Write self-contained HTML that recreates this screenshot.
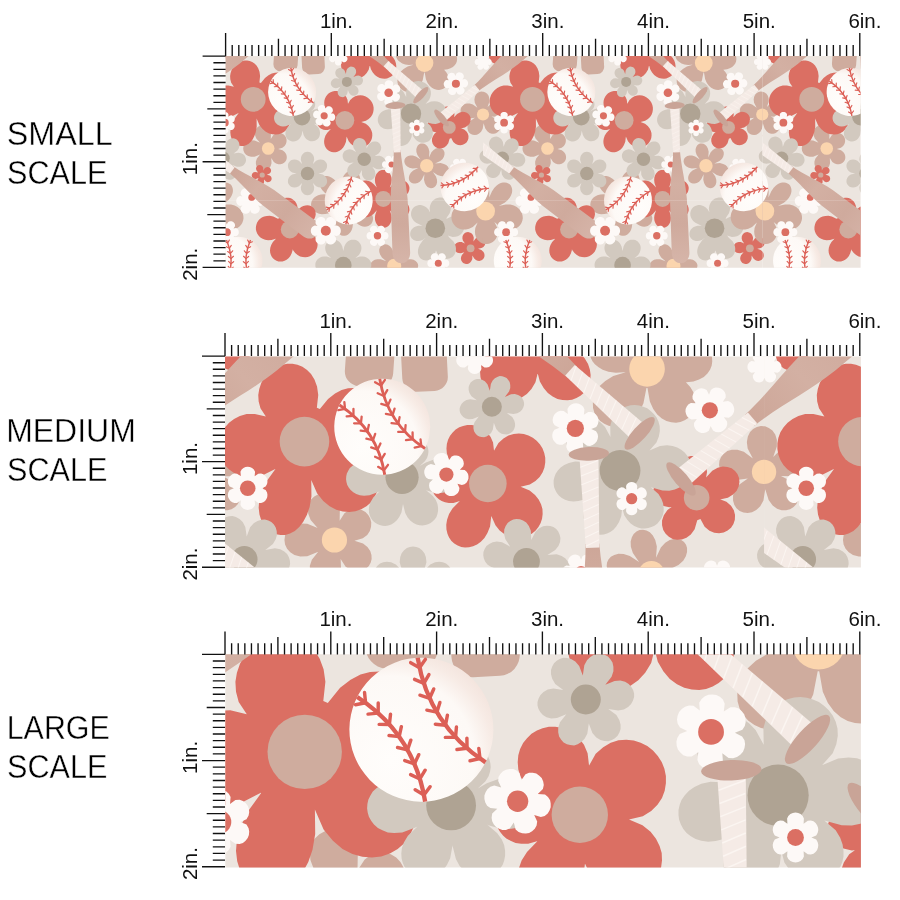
<!DOCTYPE html>
<html><head><meta charset="utf-8"><title>Fabric scale</title>
<style>
html,body{margin:0;padding:0;background:#fff;}
body{width:900px;height:900px;overflow:hidden;position:relative;font-family:"Liberation Sans",sans-serif;}
svg{position:absolute;left:0;top:0;will-change:transform;}
.rl{font-family:"Liberation Sans",sans-serif;font-size:20.5px;fill:#111;}
.lab{font-family:"Liberation Sans",sans-serif;font-size:33px;fill:#000;stroke:#fff;stroke-width:0.4px;}
</style></head><body>
<svg width="900" height="900" viewBox="0 0 900 900">
<defs>
<radialGradient id="ballg" cx="-14" cy="3" r="40" gradientUnits="userSpaceOnUse">
<stop offset="0" stop-color="#fffdfb"/><stop offset="0.7" stop-color="#fdf9f6"/><stop offset="0.86" stop-color="#f7ebe5"/><stop offset="1" stop-color="#f2e2db"/>
</radialGradient>
<linearGradient id="batg" x1="45" y1="0" x2="158" y2="0" gradientUnits="userSpaceOnUse">
<stop offset="0" stop-color="#cda698"/><stop offset="0.3" stop-color="#d3b0a3"/><stop offset="0.65" stop-color="#cfaa9d"/><stop offset="1" stop-color="#d6b5a9"/>
</linearGradient>
<g id="ball">
<circle r="24" fill="url(#ballg)"/>
<path d="M12,-20.78 Q2.88,0 12,20.78" fill="none" stroke="#dc5f56" stroke-width="1.45"/>
<path d="M10.73,-17.67 l3.16,-1.25 M10.73,-17.67 l-1.57,-3.01 M9.08,-12.47 l3.02,-1.56 M9.08,-12.47 l-1.86,-2.84 M8,-7.27 l2.84,-1.87 M8,-7.27 l-2.15,-2.63 M7.49,-2.08 l2.62,-2.16 M7.49,-2.08 l-2.42,-2.38 M7.54,3.12 l2.37,-2.44 M7.54,3.12 l-2.67,-2.1 M8.17,8.31 l2.1,-2.68 M8.17,8.31 l-2.88,-1.8 M9.37,13.51 l1.81,-2.88 M9.37,13.51 l-3.05,-1.49 M11.13,18.71 l1.51,-3.04 M11.13,18.71 l-3.19,-1.19" fill="none" stroke="#dc5f56" stroke-width="1.15" stroke-linecap="round"/>
<path d="M-12,-20.78 Q-2.88,0 -12,20.78" fill="none" stroke="#dc5f56" stroke-width="1.45"/>
<path d="M-10.73,-17.67 l1.57,-3.01 M-10.73,-17.67 l-3.16,-1.25 M-9.08,-12.47 l1.86,-2.84 M-9.08,-12.47 l-3.02,-1.56 M-8,-7.27 l2.15,-2.63 M-8,-7.27 l-2.84,-1.87 M-7.49,-2.08 l2.42,-2.38 M-7.49,-2.08 l-2.62,-2.16 M-7.54,3.12 l2.67,-2.1 M-7.54,3.12 l-2.37,-2.44 M-8.17,8.31 l2.88,-1.8 M-8.17,8.31 l-2.1,-2.68 M-9.37,13.51 l3.05,-1.49 M-9.37,13.51 l-1.81,-2.88 M-11.13,18.71 l3.19,-1.19 M-11.13,18.71 l-1.51,-3.04" fill="none" stroke="#dc5f56" stroke-width="1.15" stroke-linecap="round"/>
</g>
<g id="bat">
<path d="M45,-3.6 C62,-4.3 76,-8.2 94,-8.9 L147,-9.3 C161.5,-9.3 161.5,9.3 147,9.3 L94,8.9 C76,8.2 62,4.3 45,3.6 Z" fill="url(#batg)"/>
<path d="M2,-5 L47,-3.55 L47,3.55 L2,5 Z" fill="#f5ebe6"/>
<path d="M3.5,-4.7 l3,9.4 M7.9,-4.57 l3,9.14 M12.3,-4.44 l3,8.89 M16.7,-4.32 l3,8.64 M21.1,-4.19 l3,8.38 M25.5,-4.06 l3,8.13 M29.9,-3.94 l3,7.87 M34.3,-3.81 l3,7.62 M38.7,-3.68 l3,7.36 M43.1,-3.55 l3,7.11" stroke="#fbf5f1" stroke-width="0.5" fill="none"/>
<ellipse cx="0" cy="0" rx="3.4" ry="10.6" fill="#c9a497"/>
</g>
<clipPath id="tc"><rect x="203.73" y="-400" width="279.27" height="1200"/></clipPath>
<g id="tile" clip-path="url(#tc)"><rect x="202.73" y="-400" width="281.27" height="1200" fill="#ece5df"/>
<rect x="274.4" y="30" width="24.2" height="42" rx="7.5" fill="#cfac9e" transform="rotate(4 286 50)"/><rect x="301.2" y="30" width="22.8" height="44.3" rx="7" fill="#cfac9e" transform="rotate(-3 312 50)"/>
<g id="e1"><path d="M370.1,64.1 368.7,69.7 366.7,73 364.4,75.5 361.8,77.3 359.1,78.4 356.4,79 353.7,79 351.1,78.4 348.6,77.5 346.4,76.1 344.5,74.3 343,72.1 341.8,69.7 341.2,67.1 341,64.3 341.5,61.4 342.6,58.5 344.4,55.6 347.2,52.9 352.3,50.2 386,51.9 390.8,54.9 393.3,57.7 395,60.5 395.9,63.3 396.3,66 396.1,68.5 395.5,70.9 394.4,73 393,74.9 391.2,76.4 389.2,77.6 387,78.4 384.7,78.7 382.2,78.6 379.7,78 377.3,76.8 374.9,75.1 372.8,72.6 370.9,69.3 369.5,63.9 379.4,32.8 383.7,29.4 387,27.8 390.1,27.1 393,27.1 395.6,27.6 397.9,28.5 399.9,29.8 401.5,31.4 402.8,33.3 403.7,35.4 404.2,37.6 404.3,39.9 403.9,42.2 403,44.4 401.7,46.5 399.9,48.4 397.6,50 394.7,51.3 391,52 385.6,51.7 353.4,51.7 348,52 344.3,51.3 341.4,50 339.1,48.4 337.3,46.5 336,44.4 335.1,42.2 334.7,39.9 334.8,37.6 335.3,35.4 336.2,33.3 337.5,31.4 339.1,29.8 341.1,28.5 343.4,27.6 346,27.1 348.9,27.1 352,27.8 355.3,29.4 359.6,32.8 359.6,32.8 357.6,27.7 357.2,24.1 357.5,20.9 358.3,18.2 359.5,15.9 361.1,14 363,12.4 365.1,11.4 367.2,10.7 369.5,10.5 371.8,10.7 373.9,11.4 376,12.4 377.9,14 379.5,15.9 380.7,18.2 381.5,20.9 381.8,24.1 381.4,27.7 379.4,32.8Z" fill="#db6f63"/><circle cx="369.5" cy="46.5" r="9" fill="#cfac9e"/></g>
<g id="e2"><path d="M431.1,56.2 436.8,51.8 440.7,49.9 444.1,49.1 447.1,49.1 449.8,49.6 452,50.5 453.9,51.8 455.4,53.4 456.4,55.3 457,57.3 457.1,59.3 456.8,61.4 456,63.4 454.7,65.3 452.9,67 450.5,68.3 447.7,69.3 444.2,69.7 439.9,69.4 433,67.2 433.8,64.8 440.3,67.2 443.8,69.6 446.1,72 447.6,74.6 448.5,77.1 448.7,79.6 448.5,81.9 447.7,84.1 446.6,85.9 445.1,87.5 443.3,88.7 441.2,89.5 439,89.9 436.6,89.7 434.2,89.1 431.9,87.8 429.6,85.8 427.6,83.1 425.9,79.3 424.7,72.5 424.2,72.5 422.7,80.2 420.7,84.5 418.4,87.5 415.8,89.7 413.2,91.1 410.5,91.8 407.8,91.9 405.3,91.4 403.1,90.4 401.1,89 399.5,87.2 398.2,85 397.5,82.6 397.4,80 397.8,77.2 398.9,74.4 400.8,71.6 403.6,69 407.6,66.6 415.1,64.3 415.1,64.6 408.9,64.9 405.2,64.4 402.3,63.4 400.1,62.1 398.4,60.7 397.2,59.2 396.4,57.5 396,55.9 396,54.3 396.3,52.7 397,51.3 398.1,50.1 399.4,49.1 401.1,48.4 403,48 405.3,48 407.8,48.5 410.6,49.5 413.8,51.5 418.4,55.7 418.4,55.7 415.2,50.2 414.2,46.6 414.1,43.4 414.6,40.7 415.5,38.4 416.9,36.5 418.5,35 420.4,33.9 422.4,33.2 424.5,33 426.6,33.2 428.6,33.9 430.5,35 432.1,36.5 433.5,38.4 434.4,40.7 434.9,43.4 434.8,46.6 433.8,50.2 430.6,55.7Z" fill="#cfac9e"/><circle cx="424.5" cy="63" r="8.9" fill="#fbd5ae"/></g>
<g id="e3"><path d="M477.4,107.8 474.8,102.8 474.4,99.5 474.9,96.8 476,94.6 477.5,93 479.4,92 481.4,91.6 483.5,91.7 485.4,92.5 487.2,93.8 488.6,95.8 489.4,98.4 489.4,101.8 487.6,107.1 487.6,107.1 491.6,103.1 494.6,101.7 497.4,101.3 499.7,101.7 501.7,102.7 503.3,104.1 504.3,105.9 504.8,107.9 504.7,110 503.9,112.1 502.5,114 500.3,115.6 497.1,116.7 491.5,116.6 491.5,116.6 496.5,119.2 498.8,121.6 500,124.1 500.4,126.5 500,128.7 499.2,130.6 497.8,132.1 496,133.2 494,133.7 491.8,133.7 489.5,132.9 487.3,131.3 485.3,128.6 483.6,123.2 483.6,123.2 482.7,128.8 481.1,131.7 479.1,133.6 477,134.7 474.8,135.1 472.7,134.8 470.8,134 469.2,132.7 468.1,130.9 467.5,128.8 467.5,126.3 468.4,123.7 470.3,121 474.9,117.8 474.9,117.8 469.3,118.6 466.1,118 463.6,116.7 461.9,115 460.9,113.1 460.5,111 460.7,108.9 461.5,107 462.8,105.4 464.6,104.1 466.9,103.4 469.7,103.4 472.9,104.4 477.4,107.8Z" fill="#cfac9e"/><circle cx="483" cy="114.5" r="6.1" fill="#fbd5ae"/></g>
<use href="#e3" x="-279.27"/>
<g id="e4"><path d="M435.1,163.5 440.7,163.1 443.9,163.9 446.2,165.1 447.8,166.6 448.7,168.3 449.1,170 448.9,171.8 448.2,173.3 447,174.7 445.3,175.6 443.2,176.2 440.6,176.1 437.5,175.1 432.9,172 432.9,172 436,176.6 437,179.7 437.1,182.3 436.5,184.4 435.6,186.1 434.2,187.3 432.7,188 430.9,188.2 429.2,187.8 427.5,186.9 426,185.3 424.8,183 424,179.8 424.4,174.2 424.4,174.2 422,179.3 419.8,181.7 417.6,183 415.5,183.6 413.5,183.6 411.8,183.1 410.4,182.1 409.4,180.7 408.9,179 408.9,177 409.5,174.9 410.8,172.7 413.2,170.5 418.3,168.1 418.3,168.1 412.7,168.5 409.5,167.7 407.2,166.5 405.6,165 404.7,163.3 404.3,161.6 404.5,159.8 405.2,158.3 406.4,156.9 408.1,156 410.2,155.4 412.8,155.5 415.9,156.5 420.5,159.6 420.5,159.6 417.4,155 416.4,151.9 416.3,149.3 416.9,147.2 417.8,145.5 419.2,144.3 420.7,143.6 422.5,143.4 424.2,143.8 425.9,144.7 427.4,146.3 428.6,148.6 429.4,151.8 429,157.4 429,157.4 431.4,152.3 433.6,149.9 435.8,148.6 437.9,148 439.9,148 441.6,148.5 443,149.5 444,150.9 444.5,152.6 444.5,154.6 443.9,156.7 442.6,158.9 440.2,161.1 435.1,163.5Z" fill="#cfac9e"/><circle cx="426.7" cy="165.8" r="6.7" fill="#fbd5ae"/></g>
<g id="e5"><path d="M402.1,261.2 407.6,259.3 411,259.2 413.6,259.8 415.6,260.9 417.1,262.4 417.9,264 418.2,265.8 417.9,267.6 417.1,269.2 415.6,270.7 413.6,271.8 411,272.4 407.6,272.3 402.1,270.4 402.1,270.4 406.5,274.2 408.3,277.1 409.1,279.6 409.2,281.9 408.6,283.9 407.6,285.4 406.2,286.6 404.5,287.2 402.6,287.3 400.7,286.8 398.7,285.6 396.9,283.7 395.3,280.6 394.2,274.9 394.2,274.9 393.1,280.6 391.5,283.7 389.7,285.6 387.7,286.8 385.8,287.3 383.9,287.2 382.2,286.6 380.8,285.4 379.8,283.9 379.2,281.9 379.3,279.6 380.1,277.1 381.9,274.2 386.3,270.4 386.3,270.4 380.8,272.3 377.4,272.4 374.8,271.8 372.8,270.7 371.3,269.2 370.5,267.6 370.2,265.8 370.5,264 371.3,262.4 372.8,260.9 374.8,259.8 377.4,259.2 380.8,259.3 386.3,261.2 386.3,261.2 381.9,257.4 380.1,254.5 379.3,252 379.2,249.7 379.8,247.7 380.8,246.2 382.2,245 383.9,244.4 385.8,244.3 387.7,244.8 389.7,246 391.5,247.9 393.1,251 394.2,256.7 394.2,256.7 395.3,251 396.9,247.9 398.7,246 400.7,244.8 402.6,244.3 404.5,244.4 406.2,245 407.6,246.2 408.6,247.7 409.2,249.7 409.1,252 408.3,254.5 406.5,257.4 402.1,261.2Z" fill="#cfac9e"/><circle cx="394.2" cy="265.8" r="7" fill="#fbd5ae"/></g>
<g id="e6"><path d="M358.9,205.3 364.7,207.4 367.8,209.4 370,211.4 371.5,213.4 372.4,215.4 373,217.4 373,219.3 372.7,221 372.1,222.6 371.2,224 369.9,225.1 368.4,226 366.7,226.5 364.9,226.7 362.8,226.5 360.7,225.8 358.5,224.6 356.2,222.7 353.8,219.9 351,214.5 351.5,214.7 352.9,220.8 352.9,224.6 352.5,227.6 351.7,230 350.6,232 349.2,233.5 347.8,234.7 346.2,235.4 344.6,235.8 343,235.8 341.4,235.4 339.9,234.6 338.6,233.5 337.4,232.1 336.5,230.3 335.9,228.1 335.7,225.5 336,222.5 337,218.9 339.8,213.3 335.5,210.5 329.3,213.2 325.2,214.1 321.9,214.2 319.1,213.7 316.7,212.8 314.8,211.6 313.2,210.2 312.1,208.5 311.4,206.7 311,204.9 311.2,203 311.7,201.1 312.6,199.4 314,197.8 315.8,196.4 318.1,195.3 320.9,194.5 324.2,194.2 328.3,194.7 334.8,196.8 334.1,198.3 328.1,195.2 324.8,192.7 322.6,190.4 321,188.2 320,186.1 319.5,184.1 319.3,182.3 319.6,180.7 320.2,179.2 321.1,178 322.3,177 323.7,176.4 325.4,176.1 327.2,176.1 329.2,176.6 331.3,177.5 333.6,179 336,181.2 338.5,184.3 341.9,190.3 342.9,191.1 341.8,184.9 342,181.2 342.6,178.2 343.7,175.8 345,173.9 346.5,172.4 348.1,171.4 349.8,170.7 351.6,170.5 353.3,170.6 354.9,171.1 356.5,172 357.8,173.2 359,174.8 359.8,176.8 360.3,179 360.3,181.6 359.8,184.6 358.6,188.2 355.2,193.5 355.2,193.5 360.1,189.5 363.4,187.7 366.3,186.8 368.9,186.5 371.2,186.7 373.2,187.2 375,188.1 376.4,189.3 377.5,190.7 378.2,192.3 378.6,193.9 378.6,195.7 378.2,197.5 377.4,199.3 376.1,201 374.4,202.5 372.2,203.9 369.3,205 365.6,205.6 359.3,205.4Z" fill="#cfac9e"/></g>
<g id="e7"><path d="M260,142.8 256.3,138.6 255.1,135.4 254.9,132.7 255.4,130.3 256.5,128.3 258.1,126.8 259.9,125.8 262,125.4 264.1,125.5 266.3,126.4 268.2,127.8 269.8,130.1 270.9,133.3 270.8,138.9 270.8,138.9 273.2,135.2 275.5,133.6 277.8,133 279.9,133 281.9,133.5 283.7,134.6 285.1,136.1 286.1,137.8 286.6,139.8 286.5,141.9 285.9,144 284.6,146 282.4,147.7 278.2,148.9 278.2,148.9 282.5,150.3 284.7,152.1 286.1,154 286.7,156 286.8,158 286.3,159.9 285.4,161.5 284.1,162.8 282.4,163.8 280.5,164.3 278.4,164.2 276.1,163.5 273.8,161.9 271.3,158.1 271.3,158.1 271.5,163.2 270.6,166.2 269.1,168.3 267.2,169.8 265.2,170.6 263.1,170.8 261.1,170.4 259.2,169.5 257.7,168.1 256.5,166.3 255.9,164 255.9,161.4 256.9,158.4 260.1,154.4 260.1,154.4 254.6,156.7 251.1,156.8 248.2,156 246.1,154.7 244.5,152.9 243.5,150.8 243.2,148.6 243.5,146.3 244.5,144.2 246.1,142.4 248.2,141.1 251.1,140.3 254.6,140.4 260.1,142.7Z" fill="#cfac9e"/><circle cx="268.2" cy="148.55" r="6.3" fill="#fbd5ae"/></g>
<g id="e8"><path d="M503.6,49.1 505.1,53.6 505.1,56.8 504.3,59.3 502.9,61.4 501.1,62.8 499.1,63.7 497,64 494.9,63.7 492.9,62.8 491.1,61.4 489.7,59.3 488.9,56.8 488.9,53.6 490.4,49.1 490.4,49.1 486.6,51.9 483.5,52.9 480.8,52.9 478.5,52.2 476.6,51 475.1,49.4 474.2,47.4 473.8,45.3 474,43.1 474.9,41 476.4,39.1 478.5,37.5 481.5,36.5 486.3,36.5 486.3,36.5 482.4,33.8 480.6,31.2 479.8,28.6 479.7,26.2 480.2,24 481.3,22.1 482.9,20.6 484.8,19.6 486.9,19.1 489.2,19.3 491.5,20.1 493.7,21.7 495.6,24.2 497,28.7 497,28.7 498.4,24.2 500.3,21.7 502.5,20.1 504.8,19.3 507.1,19.1 509.2,19.6 511.1,20.6 512.7,22.1 513.8,24 514.3,26.2 514.2,28.6 513.4,31.2 511.6,33.8 507.7,36.5 507.7,36.5 512.5,36.5 515.5,37.5 517.6,39.1 519.1,41 520,43.1 520.2,45.3 519.8,47.4 518.9,49.4 517.4,51 515.5,52.2 513.2,52.9 510.5,52.9 507.4,51.9 503.6,49.1Z" fill="#db6f63"/></g>
<use href="#e8" x="-279.27"/>
<g id="e9"><path d="M233.9,86.8 231.2,82.7 230.3,79.3 230.1,76 230.6,73 231.6,70.1 233,67.5 234.9,65.3 237,63.4 239.5,61.9 242.2,60.9 244.6,60.4 247.2,60.4 249.7,60.9 252.2,61.9 254.5,63.5 256.5,65.6 258.2,68.3 259.5,71.8 260.1,76 259.4,82.4 260.9,83.1 265,78 268.5,75.3 271.8,73.6 275,72.7 278,72.6 280.7,72.9 283.2,73.8 285.4,75.2 287.3,76.8 288.7,78.8 289.7,81.1 290.3,83.6 290.4,86.2 289.9,88.8 288.9,91.4 287.3,93.9 285.1,96.3 282.2,98.3 278.3,100 272.1,101 272.1,101 279.2,103.3 283.3,106 286.3,109 288.4,112.2 289.7,115.4 290.2,118.6 290.1,121.8 289.4,124.7 288.1,127.4 286.4,129.8 284.2,131.7 281.6,133.2 278.7,134.2 275.6,134.6 272.4,134.3 269.1,133.4 265.8,131.7 262.6,129 259.5,125.2 256.6,118.6 256.6,118.6 256.7,126.7 255.8,132 254.4,136.1 252.6,139.4 250.6,142 248.4,144 246,145.3 243.6,146 241.3,146.1 239,145.7 236.7,144.7 234.7,143.2 232.9,141.2 231.6,138.7 230.7,135.8 230.3,132.4 230.6,128.6 231.8,124.4 234,119.6 238.7,113.1 238.6,113 232.6,116.1 228.2,117.1 224.3,117.1 220.9,116.4 218,115 215.4,113.2 213.4,111.1 211.9,108.6 210.9,105.9 210.4,103.1 210.4,100.2 210.9,97.4 211.9,94.7 213.5,92.2 215.5,89.9 218,88 220.9,86.6 224.3,85.6 228.4,85.5 233.9,86.8Z" fill="#db6f63"/><circle cx="253.2" cy="99.35" r="12.4" fill="#cfac9e"/></g>
<use href="#e9" x="279.27"/>
<g id="e10"><path d="M329.9,113.3 326.8,110.3 325.2,107.7 324.4,105.2 324.2,102.8 324.4,100.5 325,98.4 326,96.4 327.3,94.8 328.8,93.3 330.6,92.2 332.5,91.5 334.6,91 336.7,91 338.8,91.3 340.9,92.1 342.9,93.2 344.7,94.9 346.3,97 347.5,99.8 348,104.1 347.9,104.1 350.2,100 352.7,97.8 355.2,96.3 357.8,95.5 360.4,95.3 362.9,95.6 365.2,96.3 367.4,97.4 369.3,98.9 370.9,100.7 372.2,102.7 373.1,105 373.6,107.4 373.6,109.8 373.2,112.3 372.3,114.7 370.8,117 368.7,119.1 365.9,120.8 361.3,121.9 361.3,121.9 365.8,123.8 368.5,126 370.3,128.3 371.5,130.7 372.2,133.1 372.3,135.6 372,137.9 371.3,140.1 370.2,142.1 368.7,143.9 367,145.3 365,146.5 362.8,147.2 360.4,147.5 358,147.4 355.6,146.8 353.1,145.6 350.8,143.8 348.7,141.2 346.7,136.7 346.6,136.7 346,141.8 344.7,145 343.2,147.5 341.4,149.4 339.5,150.8 337.5,151.7 335.5,152.2 333.5,152.3 331.6,152 329.8,151.3 328.1,150.3 326.7,149 325.5,147.3 324.7,145.4 324.2,143.3 324.1,140.9 324.5,138.4 325.5,135.6 327.3,132.7 330.9,129 330.9,129.1 327.7,130 325.4,130 323.5,129.7 321.8,129 320.4,128.2 319.3,127.2 318.3,126 317.6,124.8 317.2,123.4 317,122.1 317,120.7 317.3,119.3 317.8,117.9 318.6,116.7 319.6,115.5 320.9,114.5 322.5,113.7 324.4,113.1 326.6,112.9 329.9,113.3Z" fill="#db6f63"/><circle cx="344.9" cy="120.3" r="9.4" fill="#cfac9e"/></g>
<g id="e11"><path d="M376.8,187.6 375.2,182.9 374.9,180 375.1,177.5 375.7,175.5 376.6,173.7 377.7,172.4 378.9,171.3 380.3,170.5 381.8,170.1 383.3,169.9 384.8,170.1 386.3,170.5 387.7,171.3 388.9,172.4 390,173.7 390.9,175.5 391.5,177.5 391.7,180 391.4,182.9 389.8,187.6 389.8,187.6 393.1,183.9 395.5,182.1 397.7,181.1 399.8,180.6 401.7,180.5 403.5,180.7 405,181.3 406.4,182.1 407.5,183.2 408.4,184.4 409,185.8 409.4,187.3 409.4,188.9 409.1,190.5 408.5,192.2 407.4,193.8 405.9,195.3 403.9,196.7 401.2,198 396.4,198.9 396.4,198.9 401.2,199.8 403.9,201.1 405.9,202.5 407.4,204 408.5,205.6 409.1,207.3 409.4,208.9 409.4,210.5 409,212 408.4,213.4 407.5,214.6 406.4,215.7 405,216.5 403.5,217.1 401.7,217.3 399.8,217.2 397.7,216.7 395.5,215.7 393.1,213.9 389.8,210.2 389.8,210.2 391.4,214.9 391.7,217.8 391.5,220.3 390.9,222.3 390,224.1 388.9,225.4 387.7,226.5 386.3,227.3 384.8,227.7 383.3,227.9 381.8,227.7 380.3,227.3 378.9,226.5 377.7,225.4 376.6,224.1 375.7,222.3 375.1,220.3 374.9,217.8 375.2,214.9 376.8,210.2 376.8,210.2 373.5,213.9 371.1,215.7 368.9,216.7 366.8,217.2 364.9,217.3 363.1,217.1 361.6,216.5 360.2,215.7 359.1,214.6 358.2,213.4 357.6,212 357.2,210.5 357.2,208.9 357.5,207.3 358.1,205.6 359.2,204 360.7,202.5 362.7,201.1 365.4,199.8 370.2,198.9 370.2,198.9 365.4,198 362.7,196.7 360.7,195.3 359.2,193.8 358.1,192.2 357.5,190.5 357.2,188.9 357.2,187.3 357.6,185.8 358.2,184.4 359.1,183.2 360.2,182.1 361.6,181.3 363.1,180.7 364.9,180.5 366.8,180.6 368.9,181.1 371.1,182.1 373.5,183.9 376.8,187.6Z" fill="#db6f63"/><circle cx="383.3" cy="198.9" r="8" fill="#cfac9e"/></g>
<g id="e12"><path d="M280.3,217.8 278.3,213.4 277.6,210.3 277.6,207.5 278,205.1 278.8,203 280,201.3 281.4,199.9 282.9,198.8 284.6,198 286.5,197.7 288.3,197.7 290.1,198 291.9,198.8 293.5,199.9 295,201.3 296.3,203.2 297.2,205.5 297.7,208.2 297.7,211.4 296.6,216.1 294.4,215.2 296.9,211 299.1,208.7 301.2,207.1 303.3,206.1 305.4,205.5 307.4,205.3 309.2,205.6 310.9,206.1 312.3,207 313.6,208.1 314.6,209.4 315.3,211 315.6,212.7 315.7,214.6 315.3,216.5 314.5,218.5 313.3,220.5 311.5,222.5 308.9,224.4 304.5,226.4 305.7,230.9 310.5,232.8 313.4,234.9 315.3,237.3 316.7,239.8 317.4,242.4 317.6,244.9 317.3,247.3 316.5,249.6 315.4,251.7 313.8,253.5 312,255.1 309.9,256.2 307.6,257 305.2,257.3 302.7,257.1 300.1,256.4 297.6,255 295.2,253.1 293.1,250.2 291.2,245.4 292.8,245.2 292.6,250.3 291.6,253.6 290.2,256.2 288.5,258.2 286.6,259.8 284.6,260.8 282.5,261.4 280.5,261.6 278.4,261.4 276.5,260.8 274.7,259.8 273.2,258.5 271.9,256.9 270.9,255 270.2,252.8 270,250.4 270.3,247.8 271.2,245 272.9,242 276.4,238.2 276.6,238.4 271.6,240.1 268.1,240.3 265.1,239.8 262.6,238.8 260.4,237.4 258.7,235.7 257.3,233.7 256.4,231.6 255.9,229.4 255.9,227.1 256.3,224.9 257,222.8 258.2,220.8 259.8,219.1 261.8,217.6 264.1,216.5 266.8,215.9 269.8,215.8 273.3,216.5 277.9,218.8Z" fill="#db6f63"/><circle cx="289.8" cy="229.5" r="9" fill="#cfac9e"/></g>
<g id="e13"><path d="M454,117.3 457.1,113.9 459.8,112.4 462.4,111.8 464.7,112 466.8,112.7 468.5,114 469.7,115.6 470.5,117.5 470.7,119.6 470.3,121.8 469.3,123.9 467.5,125.8 464.9,127.4 460.3,128.4 460,127.8 464.2,129.4 466.5,131.4 467.9,133.7 468.5,136.1 468.4,138.4 467.7,140.5 466.5,142.4 464.8,143.8 462.8,144.8 460.5,145.2 458.1,144.9 455.7,143.9 453.3,141.9 451.2,138 449.6,138.7 448.3,143.2 446.4,145.8 444.2,147.4 441.9,148.3 439.5,148.4 437.3,148 435.4,146.9 433.8,145.4 432.6,143.5 432,141.2 432,138.8 432.9,136.2 434.7,133.5 438.5,130.8 439.9,131.6 435.6,132.2 432.8,131.6 430.6,130.5 429,129 428,127.3 427.6,125.4 427.6,123.6 428.2,121.8 429.3,120.2 430.8,119 432.8,118.1 435.2,117.8 438,118.2 441.9,120.2 442.6,120.2 440.8,116.5 440.4,113.7 440.8,111.4 441.7,109.6 443,108.1 444.6,107.1 446.4,106.6 448.2,106.6 450,107.1 451.7,108.2 453.1,109.7 454.1,111.8 454.5,114.5 453.8,118.6Z" fill="#db6f63"/><circle cx="449.3" cy="127.4" r="6.4" fill="#cfac9e"/></g>
<g id="e14"><path d="M263.3,170.4 264.9,168 266.4,167.2 267.9,167 269.2,167.4 270.2,168.3 270.9,169.4 271.1,170.8 270.7,172.2 269.6,173.5 266.9,174.7 266.9,174.7 269.7,175.4 271,176.6 271.6,178 271.6,179.3 271.1,180.6 270.2,181.5 269,182.1 267.5,182.2 265.9,181.6 264,179.4 264,179.4 264.1,182.3 263.4,183.8 262.3,184.8 261,185.3 259.7,185.2 258.5,184.6 257.5,183.6 257,182.3 257.1,180.5 258.6,178 258.6,178 255.9,179.1 254.2,178.9 252.9,178.1 252.1,177 251.7,175.7 251.9,174.4 252.5,173.2 253.7,172.3 255.4,171.9 258.2,172.5 258.2,172.5 256.4,170.3 256,168.5 256.4,167.1 257.2,166 258.3,165.3 259.6,165 260.9,165.3 262.1,166.1 263.1,167.5 263.3,170.4Z" fill="#db6f63"/><circle cx="262.2" cy="175" r="2.6" fill="#cfac9e"/></g>
<g id="e15"><path d="M478,248.8 481.4,250 483.1,251.5 484.1,253 484.5,254.7 484.5,256.2 484,257.7 483.2,258.9 482.1,259.9 480.8,260.6 479.3,260.9 477.6,260.7 475.9,260 474.2,258.6 472.4,255.5 472.4,255.5 472.3,259.1 471.4,261.1 470.2,262.6 468.9,263.5 467.4,263.9 465.9,264 464.4,263.6 463.1,262.9 462.1,261.8 461.3,260.4 460.9,258.8 461.1,257 461.9,254.9 464.3,252.2 464.3,252.2 460.8,253.2 458.6,253.1 456.9,252.4 455.6,251.3 454.7,250 454.2,248.6 454.1,247.1 454.4,245.7 455.1,244.4 456.2,243.2 457.6,242.4 459.4,241.9 461.6,242 464.9,243.5 464.9,243.5 462.9,240.5 462.4,238.4 462.5,236.6 463.1,235 464,233.7 465.2,232.8 466.6,232.3 468.1,232.1 469.6,232.4 471,233 472.2,234.1 473.2,235.7 473.8,237.8 473.4,241.4 473.4,241.4 475.6,238.6 477.5,237.4 479.3,237 480.9,237.1 482.4,237.6 483.6,238.4 484.6,239.6 485.2,240.9 485.4,242.4 485.2,243.9 484.6,245.5 483.4,246.9 481.5,248.1 478,248.8Z" fill="#db6f63"/><circle cx="470.6" cy="248.3" r="3.9" fill="#cfac9e"/></g>
<use href="#e15" x="-279.27"/>
<g id="e16"><path d="M313.9,109.8 318.3,108.2 321,108 323.1,108.2 324.9,108.9 326.4,109.7 327.7,110.8 328.6,112 329.4,113.4 329.8,114.8 330,116.2 329.9,117.7 329.6,119.1 328.9,120.5 328.1,121.8 326.9,122.9 325.5,123.9 323.7,124.7 321.5,125.1 318.9,125.1 314.4,123.8 313.9,123.5 317.4,126.5 318.9,128.6 319.7,130.5 320,132.3 320,134 319.7,135.6 319.2,137 318.4,138.2 317.4,139.2 316.3,140.1 315,140.7 313.7,141.1 312.2,141.3 310.7,141.2 309.2,140.8 307.7,140 306.2,138.9 304.8,137.3 303.6,135.1 302.5,130.7 302.5,130.4 301.7,134.8 300.6,137.1 299.4,138.7 298,139.9 296.6,140.8 295.1,141.3 293.6,141.5 292.2,141.4 290.8,141.1 289.6,140.6 288.4,139.8 287.4,138.9 286.5,137.7 285.9,136.4 285.5,134.9 285.4,133.2 285.6,131.4 286.3,129.5 287.6,127.3 290.8,124.2 290.1,124.6 285.7,126.2 283,126.4 280.9,126.2 279.1,125.5 277.6,124.7 276.3,123.6 275.4,122.4 274.6,121 274.2,119.6 274,118.2 274.1,116.7 274.4,115.3 275.1,113.9 275.9,112.6 277.1,111.5 278.5,110.5 280.3,109.7 282.5,109.3 285.1,109.3 289.6,110.6 291.4,111.6 288.3,109 287,107.1 286.3,105.4 286,103.8 286,102.3 286.2,100.9 286.7,99.6 287.4,98.5 288.3,97.6 289.3,96.8 290.4,96.3 291.6,95.9 292.9,95.8 294.2,95.9 295.6,96.3 296.9,96.9 298.2,97.9 299.5,99.3 300.6,101.3 301.6,105.2 301.6,106.7 302.2,103.2 303.1,101.4 304.1,100.1 305.2,99.2 306.3,98.5 307.5,98.1 308.6,97.9 309.8,98 310.8,98.2 311.9,98.7 312.8,99.3 313.6,100 314.3,100.9 314.8,102 315.1,103.2 315.2,104.5 315,105.9 314.5,107.5 313.4,109.2 310.9,111.6Z" fill="#d2c9bf"/><circle cx="302" cy="117.2" r="8.3" fill="#afa393"/></g>
<g id="e17"><path d="M353.4,77 356.5,75.7 358.4,75.6 360,76 361.2,76.7 362.1,77.7 362.7,78.8 363,79.9 363,81.1 362.6,82.3 362,83.4 361,84.4 359.6,85.2 357.7,85.6 354.4,85.1 354.4,85.1 357.1,87.1 358.1,88.8 358.5,90.3 358.5,91.7 358.1,92.9 357.5,94 356.6,94.8 355.6,95.4 354.4,95.8 353.1,95.7 351.8,95.4 350.4,94.6 349.1,93.1 347.9,89.9 347.9,89.9 347.4,93.3 346.5,95 345.4,96.1 344.2,96.8 343,97.2 341.7,97.1 340.6,96.8 339.5,96.2 338.7,95.3 338,94.2 337.7,92.8 337.7,91.3 338.3,89.5 340.4,86.8 340.4,86.8 337.3,88.1 335.4,88.2 333.8,87.8 332.6,87.1 331.7,86.1 331.1,85 330.8,83.9 330.8,82.7 331.2,81.5 331.8,80.4 332.8,79.4 334.2,78.6 336.1,78.2 339.4,78.7 339.4,78.7 336.7,76.7 335.7,75 335.3,73.5 335.3,72.1 335.7,70.9 336.3,69.8 337.2,69 338.2,68.4 339.4,68 340.7,68.1 342,68.4 343.4,69.2 344.7,70.7 345.9,73.9 345.9,73.9 346.4,70.5 347.3,68.8 348.4,67.7 349.6,67 350.8,66.6 352.1,66.7 353.2,67 354.3,67.6 355.1,68.5 355.8,69.6 356.1,71 356.1,72.5 355.5,74.3 353.4,77Z" fill="#d2c9bf"/><circle cx="346.9" cy="81.9" r="5" fill="#afa393"/></g>
<g id="e18"><path d="M302.1,164.1 300.8,159.7 301.1,157.1 301.8,155.2 303,153.7 304.4,152.6 305.9,152 307.5,151.8 309.1,152 310.6,152.6 312,153.7 313.2,155.2 313.9,157.1 314.2,159.7 312.9,164.1 312.9,164.1 316.1,160.8 318.5,159.7 320.6,159.4 322.4,159.7 324,160.3 325.3,161.4 326.3,162.7 326.9,164.1 327.1,165.8 326.9,167.5 326.2,169.2 324.9,170.9 322.8,172.4 318.4,173.5 318.4,173.5 322.8,174.6 324.9,176.1 326.2,177.8 326.9,179.5 327.1,181.2 326.9,182.9 326.3,184.3 325.3,185.6 324,186.7 322.4,187.3 320.6,187.6 318.5,187.3 316.1,186.2 312.9,182.9 312.9,182.9 314.2,187.3 313.9,189.9 313.2,191.8 312,193.3 310.6,194.4 309.1,195 307.5,195.2 305.9,195 304.4,194.4 303,193.3 301.8,191.8 301.1,189.9 300.8,187.3 302.1,182.9 302.1,182.9 298.9,186.2 296.5,187.3 294.4,187.6 292.6,187.3 291,186.7 289.7,185.6 288.7,184.3 288.1,182.9 287.9,181.2 288.1,179.5 288.8,177.8 290.1,176.1 292.2,174.6 296.6,173.5 296.6,173.5 292.2,172.4 290.1,170.9 288.8,169.2 288.1,167.5 287.9,165.8 288.1,164.1 288.7,162.7 289.7,161.4 291,160.3 292.6,159.7 294.4,159.4 296.5,159.7 298.9,160.8 302.1,164.1Z" fill="#d2c9bf"/><circle cx="307.5" cy="173.5" r="6.7" fill="#afa393"/></g>
<g id="e19"><path d="M374.7,156 379.3,155.7 381.8,156.5 383.6,157.7 384.8,159.2 385.5,160.8 385.8,162.4 385.7,164.1 385.1,165.6 384.2,167 382.8,168.1 381.1,168.9 379,169.3 376.4,168.9 372.3,166.7 372.3,166.7 374.8,170.6 375.4,173.2 375.3,175.3 374.6,177.1 373.6,178.5 372.3,179.6 370.8,180.3 369.2,180.6 367.5,180.4 365.9,179.8 364.3,178.8 363,177.1 362,174.7 361.8,170 361.8,170 359.7,174.2 357.8,175.9 355.9,176.9 354,177.2 352.3,177.1 350.7,176.5 349.3,175.5 348.3,174.3 347.6,172.7 347.2,171 347.4,169.1 348.2,167.1 349.8,165.1 353.7,162.6 353.7,162.6 349.1,162.9 346.6,162.1 344.8,160.9 343.6,159.4 342.9,157.8 342.6,156.2 342.7,154.5 343.3,153 344.2,151.6 345.6,150.5 347.3,149.7 349.4,149.3 352,149.7 356.1,151.9 356.1,151.9 353.6,148 353,145.4 353.1,143.3 353.8,141.5 354.8,140.1 356.1,139 357.6,138.3 359.2,138 360.9,138.2 362.5,138.8 364.1,139.8 365.4,141.5 366.4,143.9 366.6,148.6 366.6,148.6 368.7,144.4 370.6,142.7 372.5,141.7 374.4,141.4 376.1,141.5 377.7,142.1 379.1,143.1 380.1,144.3 380.8,145.9 381.2,147.6 381,149.5 380.2,151.5 378.6,153.5 374.7,156Z" fill="#d2c9bf"/><circle cx="364.2" cy="159.3" r="6.7" fill="#afa393"/></g>
<g id="e20"><path d="M512.9,153.5 517.7,152.7 520.4,153.2 522.4,154.3 523.8,155.6 524.7,157.2 525.2,158.9 525.3,160.6 524.9,162.3 524,163.8 522.8,165.2 521.1,166.2 518.9,166.8 516.2,166.7 511.7,165 511.7,165 514.8,168.7 515.7,171.3 515.8,173.5 515.3,175.4 514.4,177 513.2,178.3 511.8,179.2 510.1,179.7 508.3,179.8 506.6,179.3 504.8,178.4 503.2,176.8 501.9,174.4 501.2,169.6 501.2,169.6 499.5,174.2 497.7,176.2 495.8,177.4 493.9,178 492.1,178.1 490.4,177.6 488.9,176.8 487.6,175.6 486.7,174.1 486.2,172.4 486.1,170.4 486.7,168.2 488.1,165.9 491.9,162.9 491.9,162.9 487.1,163.7 484.4,163.2 482.4,162.1 481,160.8 480.1,159.2 479.6,157.5 479.5,155.8 479.9,154.1 480.8,152.6 482,151.2 483.7,150.2 485.9,149.6 488.6,149.7 493.1,151.4 493.1,151.4 490,147.7 489.1,145.1 489,142.9 489.5,141 490.4,139.4 491.6,138.1 493,137.2 494.7,136.7 496.5,136.6 498.2,137.1 500,138 501.6,139.6 502.9,142 503.6,146.8 503.6,146.8 505.3,142.2 507.1,140.2 509,139 510.9,138.4 512.7,138.3 514.4,138.8 515.9,139.6 517.2,140.8 518.1,142.3 518.6,144 518.7,146 518.1,148.2 516.7,150.5 512.9,153.5Z" fill="#d2c9bf"/><circle cx="502.4" cy="158.2" r="6.6" fill="#afa393"/></g>
<use href="#e20" x="-279.27"/>
<g id="e21"><path d="M425.4,103.9 431,101.6 434.5,101.2 437.3,101.5 439.6,102.3 441.6,103.4 443.3,104.8 444.6,106.4 445.6,108.1 446.2,110 446.5,111.9 446.4,113.9 446,115.8 445.2,117.7 444.1,119.4 442.6,120.9 440.7,122.3 438.4,123.3 435.6,123.9 432.2,123.8 426.4,122.2 426.4,122.2 430.2,125.5 431.7,128 432.5,130.2 432.8,132.3 432.8,134.3 432.4,136.1 431.7,137.7 430.7,139.1 429.6,140.4 428.2,141.4 426.7,142.1 425.1,142.6 423.4,142.8 421.7,142.8 419.9,142.3 418.1,141.6 416.3,140.3 414.7,138.6 413.1,136.2 411.8,131.3 412.2,131.3 411.6,136.7 410.5,139.6 409.1,141.8 407.7,143.4 406.1,144.5 404.5,145.3 402.9,145.8 401.3,145.9 399.7,145.8 398.3,145.3 396.9,144.6 395.7,143.6 394.6,142.4 393.8,141 393.2,139.3 392.8,137.4 392.9,135.2 393.4,132.8 394.7,129.9 398,125.5 398,125.5 393.2,128.3 390.2,129.1 387.7,129.3 385.4,129 383.5,128.4 381.9,127.5 380.5,126.4 379.4,125.1 378.6,123.6 378,122 377.8,120.4 377.8,118.7 378.2,117 378.8,115.4 379.9,113.8 381.3,112.3 383.1,111.1 385.4,110 388.5,109.3 394,109.6 394,109.6 389,107.1 386.7,105 385.2,102.8 384.3,100.8 383.8,98.7 383.7,96.7 384,94.9 384.6,93.1 385.4,91.6 386.5,90.2 387.9,89 389.4,88.1 391.1,87.4 393,87.1 395,87.1 397,87.5 399.2,88.4 401.3,89.8 403.5,92.1 406.2,97 406.2,97 406.1,91.4 407,88.3 408.5,85.9 410.2,84.1 412.1,82.7 414.1,81.8 416.3,81.2 418.4,81.1 420.6,81.3 422.6,81.9 424.6,82.7 426.3,84 427.9,85.5 429.2,87.2 430.2,89.3 430.8,91.6 430.9,94 430.4,96.8 429.2,99.8 425.5,104Z" fill="#d2c9bf"/><circle cx="411" cy="113.8" r="10.2" fill="#afa393"/></g>
<g id="e22"><path d="M355.4,258 359.9,256.5 362.6,256.4 364.7,256.8 366.5,257.5 368,258.4 369.2,259.5 370.1,260.8 370.8,262.1 371.2,263.5 371.3,265 371.2,266.5 370.8,267.9 370.1,269.2 369.2,270.5 368,271.6 366.5,272.5 364.7,273.2 362.6,273.6 359.9,273.5 355.4,272 355.4,272 358.9,275.1 360.4,277.4 361.1,279.4 361.4,281.3 361.4,283.1 361,284.7 360.4,286.1 359.5,287.3 358.5,288.4 357.3,289.2 356,289.9 354.5,290.2 353,290.3 351.5,290.2 349.9,289.7 348.4,288.9 346.9,287.7 345.5,286 344.3,283.6 343.3,279 343.3,279 342.3,283.6 341.1,286 339.7,287.7 338.2,288.9 336.7,289.7 335.1,290.2 333.6,290.3 332.1,290.2 330.6,289.9 329.3,289.2 328.1,288.4 327.1,287.3 326.2,286.1 325.6,284.7 325.2,283.1 325.2,281.3 325.5,279.4 326.2,277.4 327.7,275.1 331.2,272 331.2,272 326.7,273.5 324,273.6 321.9,273.2 320.1,272.5 318.6,271.6 317.4,270.5 316.5,269.2 315.8,267.9 315.4,266.5 315.3,265 315.4,263.5 315.8,262.1 316.5,260.8 317.4,259.5 318.6,258.4 320.1,257.5 321.9,256.8 324,256.4 326.7,256.5 331.2,258 331.2,258 327.7,254.9 326.2,252.6 325.5,250.6 325.2,248.7 325.2,246.9 325.6,245.3 326.2,243.9 327.1,242.7 328.1,241.6 329.3,240.8 330.6,240.1 332.1,239.8 333.6,239.7 335.1,239.8 336.7,240.3 338.2,241.1 339.7,242.3 341.1,244 342.3,246.4 343.3,251 343.3,251 344.3,246.4 345.5,244 346.9,242.3 348.4,241.1 349.9,240.3 351.5,239.8 353,239.7 354.5,239.8 356,240.1 357.3,240.8 358.5,241.6 359.5,242.7 360.4,243.9 361,245.3 361.4,246.9 361.4,248.7 361.1,250.6 360.4,252.6 358.9,254.9 355.4,258Z" fill="#d2c9bf"/><circle cx="343.3" cy="265" r="8.3" fill="#afa393"/></g>
<g id="e23"><path d="M430.2,213.5 429.6,208.2 430.2,205.2 431.2,202.9 432.5,201.1 434,199.7 435.7,198.6 437.5,197.9 439.3,197.6 441.1,197.5 442.9,197.8 444.6,198.4 446.2,199.3 447.6,200.5 448.9,201.9 449.8,203.6 450.5,205.6 450.8,207.8 450.6,210.3 449.7,213.2 446.8,217.6 446.4,219 450.8,216.8 453.6,216.4 456,216.6 458,217.2 459.8,218.2 461.2,219.4 462.4,220.8 463.3,222.4 463.9,224 464.2,225.8 464.2,227.5 463.9,229.3 463.3,231 462.4,232.6 461.1,234 459.6,235.3 457.7,236.2 455.4,236.8 452.6,236.9 447.9,235.6 449.3,237.4 453.3,241.3 454.9,244.1 455.7,246.5 456,248.7 455.9,250.8 455.4,252.6 454.7,254.3 453.6,255.7 452.4,256.9 451,257.8 449.4,258.4 447.8,258.8 446,258.9 444.2,258.6 442.4,257.9 440.7,256.9 439,255.4 437.4,253.4 436,250.5 435,245 436.5,245.2 435.9,250.8 434.9,253.8 433.6,256 432.2,257.7 430.7,258.9 429.2,259.8 427.6,260.3 426.1,260.4 424.6,260.3 423.2,259.9 421.8,259.3 420.6,258.4 419.6,257.2 418.8,255.8 418.2,254.1 417.9,252.2 418,250 418.6,247.6 419.8,244.7 423.1,240.1 426.1,237.5 422.5,239.9 420.2,240.7 418.2,241 416.5,240.9 415,240.5 413.6,239.9 412.5,239.1 411.6,238.2 410.9,237.1 410.4,235.9 410.2,234.7 410.2,233.4 410.4,232.1 410.9,230.8 411.6,229.5 412.6,228.4 414,227.3 415.8,226.5 418.2,225.8 422.5,225.8 420.7,224.9 416.1,222.8 413.9,220.9 412.5,219.1 411.6,217.3 411.1,215.4 411,213.7 411.2,212 411.7,210.5 412.4,209.1 413.4,207.8 414.5,206.8 415.9,206 417.4,205.4 419,205.1 420.8,205.1 422.6,205.4 424.5,206.2 426.5,207.5 428.5,209.5 430.9,214Z" fill="#d2c9bf"/><circle cx="435.3" cy="228.3" r="9.8" fill="#afa393"/></g>
<g id="e24"><path d="M489.2,197.6 491.9,191.4 494.2,188 496.4,185.7 498.7,184.1 500.8,183.1 502.9,182.5 504.9,182.4 506.7,182.7 508.3,183.4 509.7,184.3 510.8,185.6 511.6,187.2 512.1,188.9 512.2,190.9 511.9,193 511.1,195.3 509.7,197.7 507.6,200.2 504.6,202.8 498.7,206.1 498.6,205.9 505.8,204.4 510.3,204.6 513.9,205.6 516.8,207 519.1,208.9 520.8,211 522,213.4 522.6,215.8 522.8,218.2 522.4,220.6 521.5,222.9 520.2,225 518.5,226.8 516.3,228.2 513.8,229.2 510.9,229.8 507.7,229.7 504.1,228.8 500.1,226.8 494.4,222 494.4,222 497,227.3 497.7,230.8 497.6,233.9 497,236.5 495.9,238.7 494.5,240.6 492.8,242 490.9,243.1 488.9,243.8 486.8,244.1 484.6,243.9 482.5,243.4 480.6,242.5 478.8,241.1 477.2,239.4 476,237.2 475.2,234.6 474.9,231.6 475.3,228 477.6,222.6 477.6,222.6 472.8,227 469.1,228.7 465.9,229.5 462.9,229.5 460.1,228.9 457.7,227.9 455.6,226.4 453.9,224.5 452.6,222.4 451.8,220.2 451.4,217.7 451.5,215.3 452,212.9 453.1,210.5 454.6,208.4 456.7,206.5 459.3,205 462.5,204 466.5,203.8 472.9,205.2 472.9,205.2 468,201.4 465.8,198.2 464.5,195.2 464.1,192.4 464.2,189.7 464.8,187.2 465.9,185 467.4,183.1 469.2,181.5 471.2,180.3 473.5,179.5 475.8,179.1 478.2,179.2 480.6,179.8 483,180.9 485.1,182.6 487,184.8 488.5,187.6 489.4,191.4 489.2,197.6Z" fill="#cfac9e"/><circle cx="485.6" cy="211.1" r="9.4" fill="#fbd5ae"/></g>
<use href="#e24" x="-279.27"/>
<g id="e25"><path d="M330.9,113.4 333.3,113.6 334.3,114.4 335,115.5 335.2,116.6 335.2,117.8 334.8,118.9 334.2,119.9 333.2,120.7 331.9,121.1 329.7,120.4 329.7,120.4 330.7,122.6 330.5,123.9 329.9,125 329,125.8 328,126.4 326.9,126.6 325.7,126.5 324.5,126.1 323.5,125.2 322.9,122.9 322.9,122.9 321.6,124.8 320.3,125.4 319.1,125.4 318,125 317,124.4 316.2,123.5 315.7,122.5 315.5,121.3 315.7,119.9 317.4,118.3 317.4,118.3 315.1,118.1 314,117.3 313.4,116.2 313.1,115.1 313.1,113.9 313.5,112.8 314.1,111.8 315.1,111 316.4,110.6 318.7,111.2 318.7,111.2 317.7,109.1 317.8,107.7 318.4,106.7 319.3,105.8 320.3,105.3 321.5,105.1 322.7,105.1 323.8,105.6 324.8,106.5 325.4,108.8 325.4,108.8 326.8,106.8 328,106.3 329.2,106.3 330.4,106.6 331.4,107.3 332.2,108.1 332.7,109.2 332.9,110.4 332.6,111.7 330.9,113.4Z" fill="#fdf9f7"/><circle cx="324.17" cy="115.83" r="3.56" fill="#db6f63"/></g>
<g id="e26"><path d="M384.9,85.6 384.7,83 385.5,81.7 386.6,80.8 387.8,80.3 389.1,80.2 390.4,80.4 391.6,81 392.6,81.9 393.2,83.3 392.9,85.9 392.9,85.9 395.1,84.5 396.6,84.5 397.9,84.9 398.9,85.8 399.7,86.8 400.1,88.1 400.2,89.4 399.9,90.7 399.1,92 396.6,93 396.6,93 399,94.2 399.8,95.5 400,96.8 399.8,98.1 399.3,99.3 398.4,100.3 397.3,101.1 396,101.5 394.5,101.4 392.4,99.8 392.4,99.8 392.6,102.4 391.8,103.7 390.7,104.6 389.5,105.1 388.2,105.2 386.9,105 385.7,104.4 384.7,103.5 384.1,102.1 384.4,99.5 384.4,99.5 382.2,100.9 380.7,100.9 379.4,100.5 378.4,99.6 377.6,98.6 377.2,97.3 377.1,96 377.4,94.7 378.2,93.4 380.7,92.4 380.7,92.4 378.3,91.2 377.5,89.9 377.3,88.6 377.5,87.3 378,86.1 378.9,85.1 380,84.3 381.3,83.9 382.8,84 384.9,85.6Z" fill="#fdf9f7"/><circle cx="388.65" cy="92.7" r="4.3" fill="#db6f63"/></g>
<g id="e27"><path d="M414.1,123.3 414,121.6 414.4,120.7 415.1,120.1 415.9,119.7 416.8,119.6 417.7,119.7 418.5,120.1 419.2,120.7 419.6,121.6 419.5,123.3 419.5,123.3 420.9,122.3 421.9,122.2 422.8,122.5 423.5,123.1 424,123.8 424.3,124.6 424.4,125.4 424.2,126.3 423.7,127.2 422.1,127.9 422.1,127.9 423.7,128.6 424.2,129.5 424.4,130.4 424.3,131.2 424,132.1 423.5,132.7 422.8,133.3 421.9,133.6 420.9,133.5 419.5,132.5 419.5,132.5 419.6,134.2 419.2,135.1 418.5,135.7 417.7,136.1 416.8,136.2 415.9,136.1 415.1,135.7 414.4,135.1 414,134.2 414.1,132.5 414.1,132.5 412.7,133.5 411.7,133.6 410.8,133.3 410.1,132.7 409.6,132.1 409.3,131.2 409.2,130.4 409.4,129.5 409.9,128.6 411.5,127.9 411.5,127.9 409.9,127.2 409.4,126.3 409.2,125.4 409.3,124.6 409.6,123.8 410.1,123.1 410.8,122.5 411.7,122.2 412.7,122.3 414.1,123.3Z" fill="#fdf9f7"/><circle cx="416.8" cy="127.9" r="2.8" fill="#db6f63"/></g>
<g id="e28"><path d="M258,196.5 260.4,196.1 261.6,196.5 262.6,197.2 263.3,198 263.8,199 264.1,200 264.2,201 264.1,202 263.8,203 263.3,204 262.6,204.8 261.6,205.5 260.4,205.9 258,205.5 258,205.5 259.5,207.3 259.8,208.7 259.7,209.8 259.3,210.8 258.8,211.8 258.1,212.5 257.2,213.1 256.2,213.6 255.2,213.8 254.2,213.8 253.1,213.6 252,213.1 251,212.2 250.2,210 250.2,210 249.4,212.2 248.4,213.1 247.3,213.6 246.2,213.8 245.2,213.8 244.2,213.6 243.2,213.1 242.3,212.5 241.6,211.8 241.1,210.8 240.7,209.8 240.6,208.7 240.9,207.3 242.4,205.5 242.4,205.5 240,205.9 238.8,205.5 237.8,204.8 237.1,204 236.6,203 236.3,202 236.2,201 236.3,200 236.6,199 237.1,198 237.8,197.2 238.8,196.5 240,196.1 242.4,196.5 242.4,196.5 240.9,194.7 240.6,193.3 240.7,192.2 241.1,191.2 241.6,190.2 242.3,189.5 243.2,188.9 244.2,188.4 245.2,188.2 246.2,188.2 247.3,188.4 248.4,188.9 249.4,189.8 250.2,192 250.2,192 251,189.8 252,188.9 253.1,188.4 254.2,188.2 255.2,188.2 256.2,188.4 257.2,188.9 258.1,189.5 258.8,190.2 259.3,191.2 259.7,192.2 259.8,193.3 259.5,194.7 258,196.5Z" fill="#fdf9f7"/><circle cx="251.7" cy="197.5" r="3.4" fill="#db6f63"/></g>
<g id="e29"><path d="M383.6,232.3 385.9,232.1 387.1,232.7 387.9,233.6 388.3,234.7 388.5,235.8 388.3,236.9 387.9,238 387.1,238.9 385.9,239.5 383.6,239.3 383.6,239.3 385,241.2 385,242.5 384.6,243.7 383.9,244.6 383,245.3 381.9,245.8 380.8,245.9 379.6,245.7 378.5,245 377.5,242.8 377.5,242.8 376.5,245 375.4,245.7 374.2,245.9 373.1,245.8 372,245.3 371.1,244.6 370.4,243.7 370,242.5 370,241.2 371.4,239.3 371.4,239.3 369.1,239.5 367.9,238.9 367.1,238 366.7,236.9 366.5,235.8 366.7,234.7 367.1,233.6 367.9,232.7 369.1,232.1 371.4,232.3 371.4,232.3 370,230.4 370,229.1 370.4,227.9 371.1,227 372,226.3 373.1,225.8 374.2,225.7 375.4,225.9 376.5,226.6 377.5,228.8 377.5,228.8 378.5,226.6 379.6,225.9 380.8,225.7 381.9,225.8 383,226.3 383.9,227 384.6,227.9 385,229.1 385,230.4 383.6,232.3Z" fill="#fdf9f7"/><circle cx="377.5" cy="235.8" r="3.7" fill="#db6f63"/></g>
<g id="e30"><path d="M462.4,79.4 465,79.1 466.3,79.7 467.3,80.7 467.8,81.8 468.1,83.1 468,84.3 467.5,85.5 466.7,86.6 465.4,87.4 462.9,87.2 462.9,87.2 464.5,89.3 464.6,90.7 464.2,92 463.5,93.1 462.5,93.9 461.4,94.5 460.1,94.7 458.8,94.5 457.5,93.8 456.3,91.5 456.3,91.5 455.4,93.9 454.2,94.7 452.9,95.1 451.6,95 450.4,94.6 449.3,93.8 448.5,92.8 448,91.6 448,90.1 449.4,88 449.4,88 446.8,88.3 445.5,87.7 444.5,86.7 444,85.6 443.7,84.3 443.8,83.1 444.3,81.9 445.1,80.8 446.4,80 448.9,80.2 448.9,80.2 447.3,78.1 447.2,76.7 447.6,75.4 448.3,74.3 449.3,73.5 450.4,72.9 451.7,72.7 453,72.9 454.3,73.6 455.5,75.9 455.5,75.9 456.4,73.5 457.6,72.7 458.9,72.3 460.2,72.4 461.4,72.8 462.5,73.6 463.3,74.6 463.8,75.8 463.8,77.3 462.4,79.4Z" fill="#fdf9f7"/><circle cx="455.9" cy="83.7" r="4.05" fill="#db6f63"/></g>
<g id="e31"><path d="M221.4,116.7 221.2,114.4 221.8,113.3 222.7,112.5 223.7,112.1 224.8,111.9 225.9,112.1 227,112.5 227.9,113.3 228.5,114.4 228.3,116.7 228.3,116.7 230.1,115.4 231.5,115.3 232.6,115.7 233.5,116.4 234.2,117.3 234.6,118.3 234.7,119.5 234.5,120.6 233.8,121.8 231.7,122.7 231.7,122.7 233.8,123.6 234.5,124.8 234.7,125.9 234.6,127.1 234.2,128.1 233.5,129 232.6,129.7 231.5,130.1 230.1,130 228.3,128.7 228.3,128.7 228.5,131 227.9,132.1 227,132.9 225.9,133.3 224.8,133.5 223.7,133.3 222.7,132.9 221.8,132.1 221.2,131 221.4,128.7 221.4,128.7 219.5,130 218.2,130.1 217.1,129.7 216.2,129 215.5,128.1 215,127.1 214.9,125.9 215.1,124.8 215.8,123.6 217.9,122.7 217.9,122.7 215.8,121.8 215.1,120.6 214.9,119.5 215,118.3 215.5,117.3 216.2,116.4 217.1,115.7 218.2,115.3 219.5,115.4 221.4,116.7Z" fill="#fdf9f7"/><circle cx="224.83" cy="122.7" r="3.9" fill="#db6f63"/></g>
<g id="e32"><path d="M396.8,161.5 398.8,161.3 399.8,161.8 400.5,162.6 400.9,163.5 401,164.5 400.9,165.5 400.5,166.4 399.8,167.2 398.8,167.7 396.8,167.5 396.8,167.5 397.9,169.2 398,170.3 397.6,171.3 397,172.1 396.2,172.7 395.3,173.1 394.3,173.2 393.3,173 392.3,172.4 391.5,170.6 391.5,170.6 390.7,172.4 389.7,173 388.7,173.2 387.7,173.1 386.8,172.7 386,172.1 385.4,171.3 385,170.3 385.1,169.2 386.2,167.5 386.2,167.5 384.2,167.7 383.2,167.2 382.5,166.4 382.1,165.5 382,164.5 382.1,163.5 382.5,162.6 383.2,161.8 384.2,161.3 386.2,161.5 386.2,161.5 385.1,159.8 385,158.7 385.4,157.7 386,156.9 386.8,156.3 387.7,155.9 388.7,155.8 389.7,156 390.7,156.6 391.5,158.4 391.5,158.4 392.3,156.6 393.3,156 394.3,155.8 395.3,155.9 396.2,156.3 397,156.9 397.6,157.7 398,158.7 397.9,159.8 396.8,161.5Z" fill="#fdf9f7"/><circle cx="391.5" cy="164.5" r="3" fill="#db6f63"/></g>
<g id="e33"><path d="M233.5,228.4 236,228.1 237.3,228.8 238.2,229.8 238.7,231 238.8,232.2 238.7,233.4 238.2,234.6 237.3,235.6 236,236.3 233.5,236 233.5,236 235,238.1 235,239.6 234.6,240.8 233.8,241.8 232.8,242.6 231.7,243.1 230.4,243.2 229.1,243 227.9,242.2 226.8,239.9 226.8,239.9 225.8,242.2 224.5,243 223.3,243.2 222,243.1 220.8,242.6 219.8,241.8 219.1,240.8 218.7,239.6 218.7,238.1 220.2,236 220.2,236 217.7,236.3 216.4,235.6 215.5,234.6 215,233.4 214.8,232.2 215,231 215.5,229.8 216.4,228.8 217.7,228.1 220.2,228.4 220.2,228.4 218.7,226.3 218.7,224.8 219.1,223.6 219.8,222.6 220.8,221.8 222,221.3 223.3,221.2 224.5,221.4 225.8,222.2 226.8,224.5 226.8,224.5 227.9,222.2 229.1,221.4 230.4,221.2 231.7,221.3 232.8,221.8 233.8,222.6 234.6,223.6 235,224.8 235,226.3 233.5,228.4Z" fill="#fdf9f7"/><circle cx="226.83" cy="232.2" r="3.9" fill="#db6f63"/></g>
<g id="e34"><path d="M444.4,259.8 446.7,259.6 447.9,260.2 448.7,261.1 449.1,262.2 449.3,263.3 449.1,264.4 448.7,265.5 447.9,266.4 446.7,267 444.4,266.8 444.4,266.8 445.8,268.7 445.8,270 445.4,271.2 444.7,272.1 443.8,272.8 442.7,273.3 441.6,273.4 440.4,273.2 439.3,272.5 438.3,270.3 438.3,270.3 437.3,272.5 436.2,273.2 435,273.4 433.9,273.3 432.8,272.8 431.9,272.1 431.2,271.2 430.8,270 430.8,268.7 432.2,266.8 432.2,266.8 429.9,267 428.7,266.4 427.9,265.5 427.5,264.4 427.3,263.3 427.5,262.2 427.9,261.1 428.7,260.2 429.9,259.6 432.2,259.8 432.2,259.8 430.8,257.9 430.8,256.6 431.2,255.4 431.9,254.5 432.8,253.8 433.9,253.3 435,253.2 436.2,253.4 437.3,254.1 438.3,256.3 438.3,256.3 439.3,254.1 440.4,253.4 441.6,253.2 442.7,253.3 443.8,253.8 444.7,254.5 445.4,255.4 445.8,256.6 445.8,257.9 444.4,259.8Z" fill="#fdf9f7"/><circle cx="438.3" cy="263.3" r="3.5" fill="#db6f63"/></g>
<g id="e35"><path d="M487.9,59.3 489.7,59.1 490.6,59.6 491.2,60.3 491.6,61.1 491.7,62 491.6,62.9 491.2,63.7 490.6,64.4 489.7,64.9 487.9,64.7 487.9,64.7 489,66.2 489,67.2 488.7,68.1 488.2,68.8 487.4,69.4 486.6,69.7 485.7,69.8 484.8,69.6 483.9,69.1 483.2,67.4 483.2,67.4 482.5,69.1 481.6,69.6 480.7,69.8 479.8,69.7 478.9,69.4 478.2,68.8 477.7,68.1 477.4,67.2 477.4,66.2 478.5,64.7 478.5,64.7 476.7,64.9 475.8,64.4 475.2,63.7 474.8,62.9 474.7,62 474.8,61.1 475.2,60.3 475.8,59.6 476.7,59.1 478.5,59.3 478.5,59.3 477.4,57.8 477.4,56.8 477.7,55.9 478.2,55.2 478.9,54.6 479.8,54.3 480.7,54.2 481.6,54.4 482.5,54.9 483.2,56.6 483.2,56.6 483.9,54.9 484.8,54.4 485.7,54.2 486.6,54.3 487.4,54.6 488.2,55.2 488.7,55.9 489,56.8 489,57.8 487.9,59.3Z" fill="#fdf9f7"/></g>
<use href="#e35" x="-279.27"/>
<g id="e36"><path d="M344.7,55.5 346.6,56.4 347.3,57.4 347.5,58.5 347.4,59.5 347,60.5 346.3,61.3 345.5,62 344.4,62.3 343.2,62.3 341.5,61 341.5,61 341.7,63.1 341.1,64.2 340.3,64.9 339.3,65.4 338.3,65.5 337.3,65.4 336.3,64.9 335.5,64.2 334.9,63.1 335.1,61 335.1,61 333.4,62.3 332.2,62.3 331.1,62 330.3,61.3 329.6,60.5 329.2,59.5 329.1,58.5 329.3,57.4 330,56.4 331.9,55.5 331.9,55.5 330,54.6 329.3,53.6 329.1,52.5 329.2,51.5 329.6,50.5 330.3,49.7 331.1,49 332.2,48.7 333.4,48.7 335.1,50 335.1,50 334.9,47.9 335.5,46.8 336.3,46.1 337.3,45.6 338.3,45.5 339.3,45.6 340.3,46.1 341.1,46.8 341.7,47.9 341.5,50 341.5,50 343.2,48.7 344.4,48.7 345.5,49 346.3,49.7 347,50.5 347.4,51.5 347.5,52.5 347.3,53.6 346.6,54.6 344.7,55.5Z" fill="#fdf9f7"/></g>
<g id="e37"><path d="M464.8,164.5 466.8,164.3 467.8,164.8 468.5,165.6 468.9,166.5 469,167.5 468.9,168.5 468.5,169.4 467.8,170.2 466.8,170.7 464.8,170.5 464.8,170.5 465.9,172.2 466,173.3 465.6,174.3 465,175.1 464.2,175.7 463.3,176.1 462.3,176.2 461.3,176 460.3,175.4 459.5,173.6 459.5,173.6 458.7,175.4 457.7,176 456.7,176.2 455.7,176.1 454.8,175.7 454,175.1 453.4,174.3 453,173.3 453.1,172.2 454.2,170.5 454.2,170.5 452.2,170.7 451.2,170.2 450.5,169.4 450.1,168.5 450,167.5 450.1,166.5 450.5,165.6 451.2,164.8 452.2,164.3 454.2,164.5 454.2,164.5 453.1,162.8 453,161.7 453.4,160.7 454,159.9 454.8,159.3 455.7,158.9 456.7,158.8 457.7,159 458.7,159.6 459.5,161.4 459.5,161.4 460.3,159.6 461.3,159 462.3,158.8 463.3,158.9 464.2,159.3 465,159.9 465.6,160.7 466,161.7 465.9,162.8 464.8,164.5Z" fill="#fdf9f7"/></g>
<g id="e38"><use href="#bat" transform="translate(196.33,143.3) rotate(37) scale(0.96,1.07)"/></g>
<g id="e39"><use href="#bat" transform="translate(395.4,105.5) rotate(87.7) scale(1,0.95)"/></g>
<use href="#e39" x="-279.27"/>
<g id="e40"><use href="#bat" transform="translate(420.8,95.2) rotate(222.2) scale(1,1)"/></g>
<use href="#e40" x="-279.27"/>
<g id="e41"><use href="#bat" transform="translate(441.5,118) rotate(-40.5) scale(1,1)"/></g>
<use href="#e41" x="-279.27"/>
<g id="e42"><path d="M334.1,226 336.7,225.6 338,226 339.1,226.7 339.8,227.6 340.4,228.6 340.7,229.7 340.8,230.8 340.7,231.9 340.4,233 339.8,234 339.1,234.9 338,235.6 336.7,236 334.1,235.6 334.1,235.6 335.8,237.6 336.1,239 336,240.2 335.6,241.4 335,242.3 334.2,243.1 333.3,243.8 332.3,244.3 331.2,244.5 330,244.6 328.9,244.3 327.8,243.8 326.7,242.8 325.8,240.4 325.8,240.4 324.9,242.8 323.8,243.8 322.7,244.3 321.6,244.6 320.4,244.5 319.3,244.3 318.3,243.8 317.4,243.1 316.6,242.3 316,241.4 315.6,240.2 315.5,239 315.8,237.6 317.5,235.6 317.5,235.6 314.9,236 313.6,235.6 312.5,234.9 311.8,234 311.2,233 310.9,231.9 310.8,230.8 310.9,229.7 311.2,228.6 311.8,227.6 312.5,226.7 313.6,226 314.9,225.6 317.5,226 317.5,226 315.8,224 315.5,222.6 315.6,221.4 316,220.2 316.6,219.3 317.4,218.5 318.3,217.8 319.3,217.3 320.4,217.1 321.6,217 322.7,217.3 323.8,217.8 324.9,218.8 325.8,221.2 325.8,221.2 326.7,218.8 327.8,217.8 328.9,217.3 330,217 331.2,217.1 332.3,217.3 333.3,217.8 334.2,218.5 335,219.3 335.6,220.2 336,221.4 336.1,222.6 335.8,224 334.1,226Z" fill="#fdf9f7"/><circle cx="325.8" cy="230.8" r="5" fill="#db6f63"/></g>
<g id="e43"><use href="#ball" transform="translate(292.1,91.95) rotate(-33) scale(1)"/></g>
<g id="e44"><use href="#ball" transform="translate(348.7,200.4) rotate(217) scale(1)"/></g>
<g id="e45"><use href="#ball" transform="translate(464.7,186.9) rotate(243.5) scale(1.01)"/></g>
<use href="#e45" x="-279.27"/>
<g id="e46"><use href="#ball" transform="translate(238.5,260.7) rotate(0) scale(1)"/></g>
</g>
<g id="strip">
<use href="#tile" x="-279.27"/>
<use href="#tile" x="0"/>
<use href="#tile" x="279.27"/>
<use href="#tile" x="558.54"/>
<rect x="-400" y="200.55" width="1600" height="0.45" fill="#fff" opacity="0.35"/>
</g>
<clipPath id="pc0"><rect x="225.6" y="56.1" width="635" height="211.6"/></clipPath>
<clipPath id="pc1"><rect x="225" y="356.4" width="635.9" height="211.2"/></clipPath>
<clipPath id="pc2"><rect x="225.3" y="654.2" width="635.6" height="213.4"/></clipPath>
</defs>
<g clip-path="url(#pc0)"><use href="#strip" transform="translate(0,0) scale(1)"/></g>
<path d="M225.6,33.1 V56.1 M232.21,44.9 V56.1 M238.81,44.9 V56.1 M245.42,44.9 V56.1 M252.02,44.9 V56.1 M258.63,44.9 V56.1 M265.24,44.9 V56.1 M271.84,44.9 V56.1 M278.45,38.8 V56.1 M285.06,44.9 V56.1 M291.66,44.9 V56.1 M298.27,44.9 V56.1 M304.88,44.9 V56.1 M311.48,44.9 V56.1 M318.09,44.9 V56.1 M324.69,44.9 V56.1 M331.3,33.1 V56.1 M337.91,44.9 V56.1 M344.51,44.9 V56.1 M351.12,44.9 V56.1 M357.73,44.9 V56.1 M364.33,44.9 V56.1 M370.94,44.9 V56.1 M377.54,44.9 V56.1 M384.15,38.8 V56.1 M390.76,44.9 V56.1 M397.36,44.9 V56.1 M403.97,44.9 V56.1 M410.57,44.9 V56.1 M417.18,44.9 V56.1 M423.79,44.9 V56.1 M430.39,44.9 V56.1 M437,33.1 V56.1 M443.61,44.9 V56.1 M450.21,44.9 V56.1 M456.82,44.9 V56.1 M463.42,44.9 V56.1 M470.03,44.9 V56.1 M476.64,44.9 V56.1 M483.24,44.9 V56.1 M489.85,38.8 V56.1 M496.46,44.9 V56.1 M503.06,44.9 V56.1 M509.67,44.9 V56.1 M516.27,44.9 V56.1 M522.88,44.9 V56.1 M529.49,44.9 V56.1 M536.09,44.9 V56.1 M542.7,33.1 V56.1 M549.31,44.9 V56.1 M555.91,44.9 V56.1 M562.52,44.9 V56.1 M569.12,44.9 V56.1 M575.73,44.9 V56.1 M582.34,44.9 V56.1 M588.94,44.9 V56.1 M595.55,38.8 V56.1 M602.16,44.9 V56.1 M608.76,44.9 V56.1 M615.37,44.9 V56.1 M621.97,44.9 V56.1 M628.58,44.9 V56.1 M635.19,44.9 V56.1 M641.79,44.9 V56.1 M648.4,33.1 V56.1 M655.01,44.9 V56.1 M661.61,44.9 V56.1 M668.22,44.9 V56.1 M674.82,44.9 V56.1 M681.43,44.9 V56.1 M688.04,44.9 V56.1 M694.64,44.9 V56.1 M701.25,38.8 V56.1 M707.86,44.9 V56.1 M714.46,44.9 V56.1 M721.07,44.9 V56.1 M727.67,44.9 V56.1 M734.28,44.9 V56.1 M740.89,44.9 V56.1 M747.49,44.9 V56.1 M754.1,33.1 V56.1 M760.71,44.9 V56.1 M767.31,44.9 V56.1 M773.92,44.9 V56.1 M780.52,44.9 V56.1 M787.13,44.9 V56.1 M793.74,44.9 V56.1 M800.34,44.9 V56.1 M806.95,38.8 V56.1 M813.56,44.9 V56.1 M820.16,44.9 V56.1 M826.77,44.9 V56.1 M833.38,44.9 V56.1 M839.98,44.9 V56.1 M846.59,44.9 V56.1 M853.19,44.9 V56.1 M859.8,33.1 V56.1 M202.6,56.1 H225.6 M213.4,62.7 H225.6 M213.4,69.31 H225.6 M213.4,75.91 H225.6 M213.4,82.51 H225.6 M213.4,89.12 H225.6 M213.4,95.72 H225.6 M213.4,102.32 H225.6 M207.3,108.92 H225.6 M213.4,115.53 H225.6 M213.4,122.13 H225.6 M213.4,128.73 H225.6 M213.4,135.34 H225.6 M213.4,141.94 H225.6 M213.4,148.54 H225.6 M213.4,155.15 H225.6 M202.6,161.75 H225.6 M213.4,168.35 H225.6 M213.4,174.96 H225.6 M213.4,181.56 H225.6 M213.4,188.16 H225.6 M213.4,194.77 H225.6 M213.4,201.37 H225.6 M213.4,207.97 H225.6 M207.3,214.57 H225.6 M213.4,221.18 H225.6 M213.4,227.78 H225.6 M213.4,234.38 H225.6 M213.4,240.99 H225.6 M213.4,247.59 H225.6 M213.4,254.19 H225.6 M213.4,260.8 H225.6 M202.6,267.4 H225.6" stroke="#111" stroke-width="1.35" fill="none"/>
<text x="319.9" y="28.1" class="rl">1in.</text>
<text x="425.6" y="28.1" class="rl">2in.</text>
<text x="531.3" y="28.1" class="rl">3in.</text>
<text x="637" y="28.1" class="rl">4in.</text>
<text x="742.7" y="28.1" class="rl">5in.</text>
<text x="848.4" y="28.1" class="rl">6in.</text>
<text transform="translate(197.3,175.15) rotate(-90)" class="rl">1in.</text>
<text transform="translate(197.3,280.8) rotate(-90)" class="rl">2in.</text>
<g clip-path="url(#pc1)"><use href="#strip" transform="translate(-201.95,242.9) scale(2)"/></g>
<path d="M225,333.1 V356.1 M231.61,344.9 V356.1 M238.22,344.9 V356.1 M244.84,344.9 V356.1 M251.45,344.9 V356.1 M258.06,344.9 V356.1 M264.68,344.9 V356.1 M271.29,344.9 V356.1 M277.9,338.8 V356.1 M284.51,344.9 V356.1 M291.12,344.9 V356.1 M297.74,344.9 V356.1 M304.35,344.9 V356.1 M310.96,344.9 V356.1 M317.57,344.9 V356.1 M324.19,344.9 V356.1 M330.8,333.1 V356.1 M337.41,344.9 V356.1 M344.02,344.9 V356.1 M350.64,344.9 V356.1 M357.25,344.9 V356.1 M363.86,344.9 V356.1 M370.48,344.9 V356.1 M377.09,344.9 V356.1 M383.7,338.8 V356.1 M390.31,344.9 V356.1 M396.92,344.9 V356.1 M403.54,344.9 V356.1 M410.15,344.9 V356.1 M416.76,344.9 V356.1 M423.38,344.9 V356.1 M429.99,344.9 V356.1 M436.6,333.1 V356.1 M443.21,344.9 V356.1 M449.82,344.9 V356.1 M456.44,344.9 V356.1 M463.05,344.9 V356.1 M469.66,344.9 V356.1 M476.27,344.9 V356.1 M482.89,344.9 V356.1 M489.5,338.8 V356.1 M496.11,344.9 V356.1 M502.72,344.9 V356.1 M509.34,344.9 V356.1 M515.95,344.9 V356.1 M522.56,344.9 V356.1 M529.17,344.9 V356.1 M535.79,344.9 V356.1 M542.4,333.1 V356.1 M549.01,344.9 V356.1 M555.62,344.9 V356.1 M562.24,344.9 V356.1 M568.85,344.9 V356.1 M575.46,344.9 V356.1 M582.08,344.9 V356.1 M588.69,344.9 V356.1 M595.3,338.8 V356.1 M601.91,344.9 V356.1 M608.52,344.9 V356.1 M615.14,344.9 V356.1 M621.75,344.9 V356.1 M628.36,344.9 V356.1 M634.97,344.9 V356.1 M641.59,344.9 V356.1 M648.2,333.1 V356.1 M654.81,344.9 V356.1 M661.42,344.9 V356.1 M668.04,344.9 V356.1 M674.65,344.9 V356.1 M681.26,344.9 V356.1 M687.88,344.9 V356.1 M694.49,344.9 V356.1 M701.1,338.8 V356.1 M707.71,344.9 V356.1 M714.33,344.9 V356.1 M720.94,344.9 V356.1 M727.55,344.9 V356.1 M734.16,344.9 V356.1 M740.77,344.9 V356.1 M747.39,344.9 V356.1 M754,333.1 V356.1 M760.61,344.9 V356.1 M767.23,344.9 V356.1 M773.84,344.9 V356.1 M780.45,344.9 V356.1 M787.06,344.9 V356.1 M793.67,344.9 V356.1 M800.29,344.9 V356.1 M806.9,338.8 V356.1 M813.51,344.9 V356.1 M820.12,344.9 V356.1 M826.74,344.9 V356.1 M833.35,344.9 V356.1 M839.96,344.9 V356.1 M846.57,344.9 V356.1 M853.19,344.9 V356.1 M859.8,333.1 V356.1 M202,356.1 H225 M212.8,362.7 H225 M212.8,369.29 H225 M212.8,375.89 H225 M212.8,382.49 H225 M212.8,389.08 H225 M212.8,395.68 H225 M212.8,402.28 H225 M206.7,408.88 H225 M212.8,415.47 H225 M212.8,422.07 H225 M212.8,428.67 H225 M212.8,435.26 H225 M212.8,441.86 H225 M212.8,448.46 H225 M212.8,455.05 H225 M202,461.65 H225 M212.8,468.25 H225 M212.8,474.84 H225 M212.8,481.44 H225 M212.8,488.04 H225 M212.8,494.63 H225 M212.8,501.23 H225 M212.8,507.83 H225 M206.7,514.43 H225 M212.8,521.02 H225 M212.8,527.62 H225 M212.8,534.22 H225 M212.8,540.81 H225 M212.8,547.41 H225 M212.8,554.01 H225 M212.8,560.6 H225 M202,567.2 H225" stroke="#111" stroke-width="1.35" fill="none"/>
<text x="319.4" y="328.1" class="rl">1in.</text>
<text x="425.2" y="328.1" class="rl">2in.</text>
<text x="531" y="328.1" class="rl">3in.</text>
<text x="636.8" y="328.1" class="rl">4in.</text>
<text x="742.6" y="328.1" class="rl">5in.</text>
<text x="848.4" y="328.1" class="rl">6in.</text>
<text transform="translate(196.7,475.05) rotate(-90)" class="rl">1in.</text>
<text transform="translate(196.7,580.6) rotate(-90)" class="rl">2in.</text>
<g clip-path="url(#pc2)"><use href="#strip" transform="translate(-454.9,453.8) scale(3)"/></g>
<path d="M225,631.4 V654.4 M231.61,643.2 V654.4 M238.22,643.2 V654.4 M244.84,643.2 V654.4 M251.45,643.2 V654.4 M258.06,643.2 V654.4 M264.68,643.2 V654.4 M271.29,643.2 V654.4 M277.9,637.1 V654.4 M284.51,643.2 V654.4 M291.12,643.2 V654.4 M297.74,643.2 V654.4 M304.35,643.2 V654.4 M310.96,643.2 V654.4 M317.57,643.2 V654.4 M324.19,643.2 V654.4 M330.8,631.4 V654.4 M337.41,643.2 V654.4 M344.02,643.2 V654.4 M350.64,643.2 V654.4 M357.25,643.2 V654.4 M363.86,643.2 V654.4 M370.48,643.2 V654.4 M377.09,643.2 V654.4 M383.7,637.1 V654.4 M390.31,643.2 V654.4 M396.92,643.2 V654.4 M403.54,643.2 V654.4 M410.15,643.2 V654.4 M416.76,643.2 V654.4 M423.38,643.2 V654.4 M429.99,643.2 V654.4 M436.6,631.4 V654.4 M443.21,643.2 V654.4 M449.82,643.2 V654.4 M456.44,643.2 V654.4 M463.05,643.2 V654.4 M469.66,643.2 V654.4 M476.27,643.2 V654.4 M482.89,643.2 V654.4 M489.5,637.1 V654.4 M496.11,643.2 V654.4 M502.72,643.2 V654.4 M509.34,643.2 V654.4 M515.95,643.2 V654.4 M522.56,643.2 V654.4 M529.17,643.2 V654.4 M535.79,643.2 V654.4 M542.4,631.4 V654.4 M549.01,643.2 V654.4 M555.62,643.2 V654.4 M562.24,643.2 V654.4 M568.85,643.2 V654.4 M575.46,643.2 V654.4 M582.08,643.2 V654.4 M588.69,643.2 V654.4 M595.3,637.1 V654.4 M601.91,643.2 V654.4 M608.52,643.2 V654.4 M615.14,643.2 V654.4 M621.75,643.2 V654.4 M628.36,643.2 V654.4 M634.97,643.2 V654.4 M641.59,643.2 V654.4 M648.2,631.4 V654.4 M654.81,643.2 V654.4 M661.42,643.2 V654.4 M668.04,643.2 V654.4 M674.65,643.2 V654.4 M681.26,643.2 V654.4 M687.88,643.2 V654.4 M694.49,643.2 V654.4 M701.1,637.1 V654.4 M707.71,643.2 V654.4 M714.33,643.2 V654.4 M720.94,643.2 V654.4 M727.55,643.2 V654.4 M734.16,643.2 V654.4 M740.77,643.2 V654.4 M747.39,643.2 V654.4 M754,631.4 V654.4 M760.61,643.2 V654.4 M767.23,643.2 V654.4 M773.84,643.2 V654.4 M780.45,643.2 V654.4 M787.06,643.2 V654.4 M793.67,643.2 V654.4 M800.29,643.2 V654.4 M806.9,637.1 V654.4 M813.51,643.2 V654.4 M820.12,643.2 V654.4 M826.74,643.2 V654.4 M833.35,643.2 V654.4 M839.96,643.2 V654.4 M846.57,643.2 V654.4 M853.19,643.2 V654.4 M859.8,631.4 V654.4 M202,654.4 H225 M212.8,661.03 H225 M212.8,667.67 H225 M212.8,674.3 H225 M212.8,680.94 H225 M212.8,687.57 H225 M212.8,694.21 H225 M212.8,700.84 H225 M206.7,707.48 H225 M212.8,714.11 H225 M212.8,720.74 H225 M212.8,727.38 H225 M212.8,734.01 H225 M212.8,740.65 H225 M212.8,747.28 H225 M212.8,753.92 H225 M202,760.55 H225 M212.8,767.18 H225 M212.8,773.82 H225 M212.8,780.45 H225 M212.8,787.09 H225 M212.8,793.72 H225 M212.8,800.36 H225 M212.8,806.99 H225 M206.7,813.62 H225 M212.8,820.26 H225 M212.8,826.89 H225 M212.8,833.53 H225 M212.8,840.16 H225 M212.8,846.8 H225 M212.8,853.43 H225 M212.8,860.07 H225 M202,866.7 H225" stroke="#111" stroke-width="1.35" fill="none"/>
<text x="319.4" y="626.4" class="rl">1in.</text>
<text x="425.2" y="626.4" class="rl">2in.</text>
<text x="531" y="626.4" class="rl">3in.</text>
<text x="636.8" y="626.4" class="rl">4in.</text>
<text x="742.6" y="626.4" class="rl">5in.</text>
<text x="848.4" y="626.4" class="rl">6in.</text>
<text transform="translate(196.7,773.95) rotate(-90)" class="rl">1in.</text>
<text transform="translate(196.7,880.1) rotate(-90)" class="rl">2in.</text>
<g>
<text x="6.7" y="145.3" class="lab" textLength="106" lengthAdjust="spacingAndGlyphs">SMALL</text>
<text x="7" y="183.8" class="lab" textLength="100.4" lengthAdjust="spacingAndGlyphs">SCALE</text>
<text x="6.2" y="441.7" class="lab" textLength="129.6" lengthAdjust="spacingAndGlyphs">MEDIUM</text>
<text x="7" y="480.5" class="lab" textLength="100.4" lengthAdjust="spacingAndGlyphs">SCALE</text>
<text x="6.7" y="738.7" class="lab" textLength="103.1" lengthAdjust="spacingAndGlyphs">LARGE</text>
<text x="7" y="777.5" class="lab" textLength="100.4" lengthAdjust="spacingAndGlyphs">SCALE</text>
</g>
</svg>
</body></html>
